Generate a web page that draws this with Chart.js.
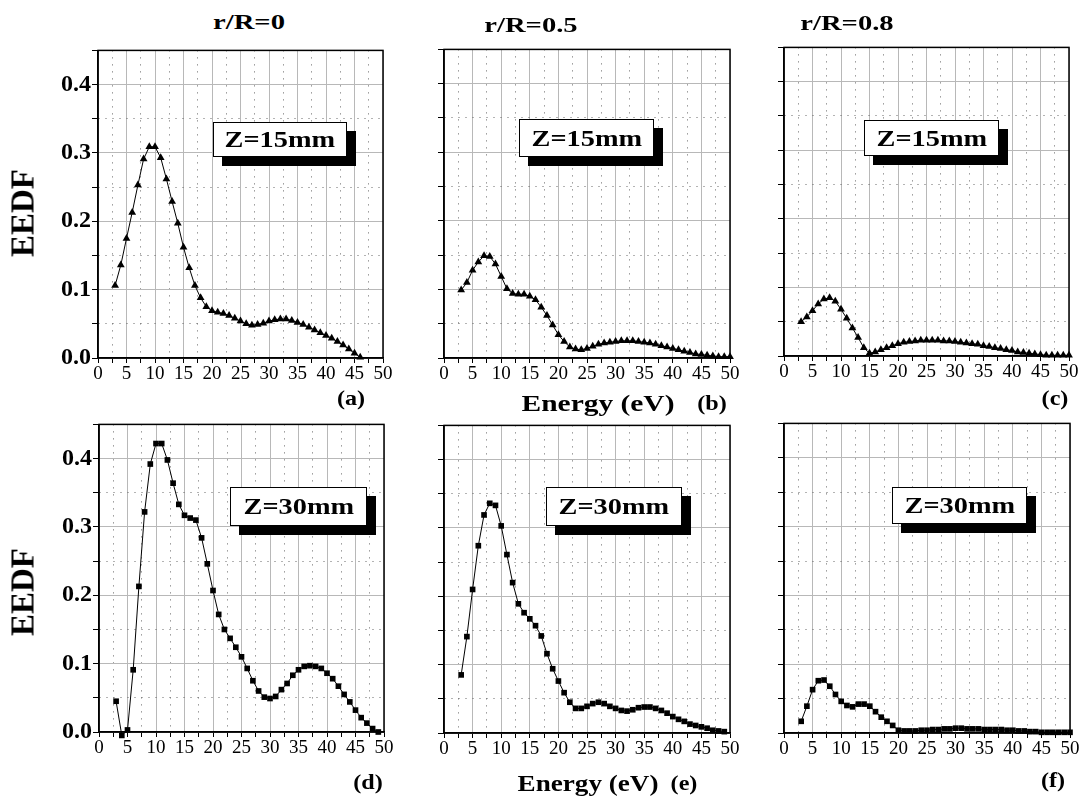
<!DOCTYPE html>
<html>
<head>
<meta charset="utf-8">
<script src="https://cdn.jsdelivr.net/npm/chart.js@4.4.1/dist/chart.umd.min.js"></script>
<style>
  body { margin: 0; background: #fff; width: 1081px; height: 805px; position: relative; overflow: hidden;
         font-family: "Liberation Serif", "Times New Roman", serif; color: #000; }
  .t { position: absolute; font-weight: bold; white-space: nowrap; line-height: 1; }
  .panel { position: absolute; }
  .zbox { position: absolute; box-sizing: border-box; background: #fff; border: 1.5px solid #000;
          box-shadow: 9px 9px 0 #000; font-weight: bold; font-size: 24px;
          display: flex; align-items: center; justify-content: center; }
  .zbox span { display: inline-block; transform: scaleX(1.18); white-space: nowrap; }
</style>
</head>
<body>
<div id="root"></div>
<script>
// energy (eV) and EEDF values
const energyA = [3,4,5,6,7,8,9,10,11,12,13,14,15,16,17,18,19,20,21,22,23,24,25,26,27,28,29,30,31,32,33,34,35,36,37,38,39,40,41,42,43,44,45,46];
const eedfA = [0.106,0.136,0.175,0.213,0.253,0.291,0.309,0.309,0.293,0.262,0.229,0.197,0.162,0.132,0.106,0.088,0.075,0.069,0.067,0.065,0.062,0.058,0.054,0.050,0.048,0.049,0.051,0.054,0.056,0.057,0.057,0.055,0.052,0.049,0.045,0.041,0.037,0.033,0.029,0.024,0.019,0.013,0.007,0.001];

const energyB = [3,4,5,6,7,8,9,10,11,12,13,14,15,16,17,18,19,20,21,22,23,24,25,26,27,28,29,30,31,32,33,34,35,36,37,38,39,40,41,42,43,44,45,46,47,48,49,50];
const eedfB = [0.099,0.110,0.128,0.140,0.149,0.148,0.137,0.119,0.101,0.094,0.093,0.093,0.090,0.085,0.074,0.062,0.048,0.034,0.024,0.016,0.013,0.012,0.014,0.017,0.020,0.022,0.023,0.024,0.025,0.025,0.025,0.024,0.023,0.022,0.020,0.018,0.016,0.014,0.012,0.010,0.008,0.006,0.005,0.004,0.003,0.002,0.002,0.002];

const energyC = [3,4,5,6,7,8,9,10,11,12,13,14,15,16,17,18,19,20,21,22,23,24,25,26,27,28,29,30,31,32,33,34,35,36,37,38,39,40,41,42,43,44,45,46,47,48,49,50];
const eedfC = [0.050,0.057,0.066,0.076,0.083,0.085,0.080,0.068,0.055,0.041,0.027,0.012,0.004,0.006,0.009,0.012,0.015,0.018,0.020,0.021,0.022,0.023,0.023,0.023,0.023,0.022,0.022,0.021,0.020,0.019,0.018,0.017,0.015,0.014,0.012,0.011,0.009,0.008,0.006,0.005,0.004,0.003,0.002,0.001,0.001,0.001,0.001,0.001];

const energyD = [3,4,5,6,7,8,9,10,11,12,13,14,15,16,17,18,19,20,21,22,23,24,25,26,27,28,29,30,31,32,33,34,35,36,37,38,39,40,41,42,43,44,45,46,47,48,49];
const eedfD = [0.045,-0.005,0.003,0.091,0.213,0.322,0.392,0.422,0.422,0.398,0.364,0.333,0.317,0.313,0.310,0.284,0.246,0.207,0.172,0.150,0.137,0.124,0.110,0.093,0.075,0.060,0.051,0.049,0.052,0.062,0.071,0.083,0.091,0.096,0.097,0.096,0.093,0.086,0.078,0.067,0.055,0.044,0.032,0.021,0.013,0.005,0.000];

const energyE = [3,4,5,6,7,8,9,10,11,12,13,14,15,16,17,18,19,20,21,22,23,24,25,26,27,28,29,30,31,32,33,34,35,36,37,38,39,40,41,42,43,44,45,46,47,48,49];
const eedfE = [0.085,0.141,0.210,0.274,0.319,0.336,0.333,0.303,0.261,0.220,0.189,0.176,0.167,0.157,0.142,0.116,0.094,0.076,0.059,0.045,0.036,0.036,0.039,0.043,0.045,0.043,0.039,0.036,0.033,0.032,0.034,0.037,0.038,0.038,0.036,0.033,0.029,0.024,0.020,0.017,0.013,0.011,0.009,0.007,0.004,0.003,0.002];

const energyF = [3,4,5,6,7,8,9,10,11,12,13,14,15,16,17,18,19,20,21,22,23,24,25,26,27,28,29,30,31,32,33,34,35,36,37,38,39,40,41,42,43,44,45,46,47,48,49,50];
const eedfF = [0.017,0.039,0.063,0.076,0.077,0.068,0.056,0.046,0.040,0.038,0.042,0.042,0.039,0.031,0.023,0.017,0.011,0.004,0.003,0.003,0.003,0.004,0.004,0.005,0.005,0.006,0.006,0.007,0.007,0.006,0.006,0.006,0.005,0.005,0.005,0.005,0.004,0.004,0.003,0.003,0.002,0.002,0.001,0.001,0.001,0.001,0.001,0.001];

const xTickLabels = ['0','5','10','15','20','25','30','35','40','45','50'];
const yTickLabels = ['0.0','0.1','0.2','0.3','0.4'];

const columnTitles = ['r/R=0', 'r/R=0.5', 'r/R=0.8'];
const panelTags = ['(a)', '(b)', '(c)', '(d)', '(e)', '(f)'];
const zLabels = ['Z=15mm', 'Z=15mm', 'Z=15mm', 'Z=30mm', 'Z=30mm', 'Z=30mm'];

// plot boxes [left, top, right, bottom] in page pixels
const panels = [
  { x: energyA, y: eedfA, marker: 'triangle', r: 4.5, yLabels: true,  box: [98, 47, 383, 358] },
  { x: energyB, y: eedfB, marker: 'triangle', r: 4.5, yLabels: false, box: [444, 46, 730, 358] },
  { x: energyC, y: eedfC, marker: 'triangle', r: 4.5, yLabels: false, box: [784, 44, 1069, 356] },
  { x: energyD, y: eedfD, marker: 'rect', r: 4, yLabels: true,  box: [99, 421, 384, 732] },
  { x: energyE, y: eedfE, marker: 'rect', r: 4, yLabels: false, box: [444, 422, 730, 733] },
  { x: energyF, y: eedfF, marker: 'rect', r: 4, yLabels: false, box: [784, 420, 1070, 733] }
];

const root = document.getElementById('root');
const PAD_L = 70, PAD_T = 12, PAD_R = 22, PAD_B = 40;

const isMajorX = v => Math.abs(v / 5 - Math.round(v / 5)) < 1e-6;
const isMajorY = v => Math.round(v * 100) % 10 === 0;

// frame on all four sides of the plot area
const frame = {
  id: 'frame',
  afterDraw(chart) {
    const a = chart.chartArea, ctx = chart.ctx;
    ctx.save();
    ctx.strokeStyle = '#000';
    ctx.lineWidth = 1.5;
    ctx.strokeRect(a.left, a.top, a.right - a.left, a.bottom - a.top);
    ctx.restore();
  }
};

panels.forEach(p => {
  const [L, T, R, B] = p.box;
  const div = document.createElement('div');
  div.className = 'panel';
  div.style.left = (L - PAD_L) + 'px';
  div.style.top = (T - PAD_T) + 'px';
  const cv = document.createElement('canvas');
  cv.width = R - L + PAD_L + PAD_R;
  cv.height = B - T + PAD_T + PAD_B;
  div.appendChild(cv);
  root.appendChild(div);

  new Chart(cv, {
    type: 'line',
    data: {
      datasets: [{
        data: p.x.map((e, i) => ({ x: e, y: p.y[i] })),
        borderColor: '#000',
        borderWidth: 1,
        backgroundColor: '#000',
        pointStyle: p.marker,
        pointRadius: p.r,
        pointBackgroundColor: '#000',
        pointBorderColor: '#000',
        pointBorderWidth: 0,
        tension: 0,
        clip: false
      }]
    },
    options: {
      responsive: false,
      animation: false,
      events: [],
      layout: { padding: { top: PAD_T, right: PAD_R, left: 0, bottom: 0 } },
      plugins: { legend: { display: false }, tooltip: { enabled: false } },
      scales: {
        x: {
          type: 'linear', min: 0, max: 50,
          afterFit: s => { s.height = PAD_B; },
          ticks: {
            stepSize: 2.5, autoSkip: false, maxRotation: 0, padding: 0, color: '#000',
            font: { family: 'Liberation Serif', size: 19 },
            callback: v => isMajorX(v) ? xTickLabels[Math.round(v / 5)] : ''
          },
          grid: {
            color: c => (c.tick && isMajorX(c.tick.value)) ? '#b8b8b8' : '#666',
            lineWidth: 1, tickLength: 5, tickColor: '#000'
          },
          border: { color: '#000', width: 1.5, dash: c => (c.tick && !isMajorX(c.tick.value)) ? [1, 6] : [] }
        },
        y: {
          min: 0, max: 0.45,
          afterFit: s => { s.width = PAD_L; },
          ticks: {
            stepSize: 0.05, autoSkip: false, padding: 1, color: '#000',
            font: { family: 'Liberation Serif', size: 24, weight: 'bold' },
            callback: v => (p.yLabels && isMajorY(v)) ? yTickLabels[Math.round(v * 10)] : ''
          },
          grid: {
            color: c => (c.tick && isMajorY(c.tick.value)) ? '#b8b8b8' : '#666',
            lineWidth: 1, tickLength: 6, tickColor: '#000'
          },
          border: { color: '#000', width: 1.5, dash: c => (c.tick && !isMajorY(c.tick.value)) ? [1, 6] : [] }
        }
      }
    },
    plugins: [frame]
  });
});

// texts around the panels
function addText(txt, cx, cy, size, sx, rot) {
  const d = document.createElement('div');
  d.className = 't';
  d.textContent = txt;
  d.style.fontSize = size + 'px';
  d.style.left = cx + 'px';
  d.style.top = cy + 'px';
  d.style.transform = 'translate(-50%,-50%)' + (rot ? ' rotate(' + rot + 'deg)' : '') + ' scaleX(' + sx + ')';
  root.appendChild(d);
}

addText(columnTitles[0], 249, 22, 22, 1.3);
addText(columnTitles[1], 531, 25, 22, 1.3);
addText(columnTitles[2], 847, 23, 22, 1.3);

addText('EEDF', 23, 213, 33, 1, -90);
addText('EEDF', 23, 592, 33, 1, -90);

addText('Energy (eV)', 598, 403, 23, 1.28);
addText('Energy (eV)', 588, 783, 23, 1.18);

const tagPos = [[351, 398], [712, 403], [1055, 398], [368, 782], [684, 783], [1053, 780]];
panelTags.forEach((t, i) => addText(t, tagPos[i][0], tagPos[i][1], 21, 1.15));

const zPos = [[213, 122, 134, 35], [519, 119, 135, 38], [864, 120, 135, 36],
              [230, 487, 137, 39], [546, 487, 136, 39], [892, 487, 135, 37]];
zLabels.forEach((t, i) => {
  const d = document.createElement('div');
  d.className = 'zbox';
  const s = document.createElement('span');
  s.textContent = t;
  d.appendChild(s);
  const [l, tp, w, h] = zPos[i];
  d.style.left = l + 'px'; d.style.top = tp + 'px';
  d.style.width = w + 'px'; d.style.height = h + 'px';
  root.appendChild(d);
});
</script>
</body>
</html>
